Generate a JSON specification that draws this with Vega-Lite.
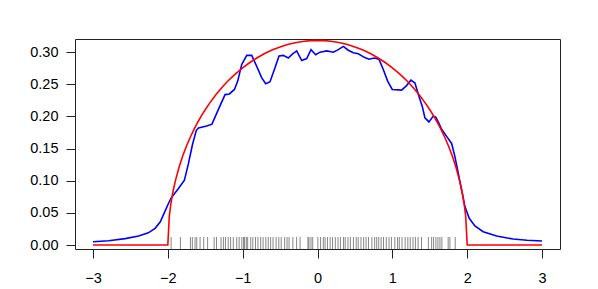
{
  "$schema": "https://vega.github.io/schema/vega-lite/v6.json",
  "width": 485,
  "height": 210,
  "padding": {"left": 75, "top": 39, "right": 38, "bottom": 40},
  "autosize": {"type": "none"},
  "background": "white",
  "config": {
    "view": {"stroke": "#222", "strokeWidth": 1},
    "font": "Liberation Sans",
    "axis": {"grid": false, "domain": false, "tickColor": "#222", "tickSize": 9, "labelFont": "Liberation Sans", "labelFontSize": 14.5, "labelColor": "#000", "labelOverlap": false, "labelFlush": false, "title": null}
  },
  "datasets": {
    "blue": [
      {"x": -3.0, "d": 0.0051}, {"x": -2.79, "d": 0.0067}, {"x": -2.57, "d": 0.0100}, {"x": -2.39, "d": 0.0140},
      {"x": -2.26, "d": 0.0190}, {"x": -2.17, "d": 0.0260}, {"x": -2.10, "d": 0.0360}, {"x": -2.04, "d": 0.0520},
      {"x": -1.99, "d": 0.0650}, {"x": -1.956, "d": 0.073}, {"x": -1.858, "d": 0.088}, {"x": -1.778, "d": 0.101},
      {"x": -1.724, "d": 0.127}, {"x": -1.671, "d": 0.156}, {"x": -1.62, "d": 0.178}, {"x": -1.59, "d": 0.182},
      {"x": -1.48, "d": 0.185}, {"x": -1.41, "d": 0.188}, {"x": -1.324, "d": 0.211}, {"x": -1.235, "d": 0.234},
      {"x": -1.177, "d": 0.235}, {"x": -1.11, "d": 0.242}, {"x": -1.066, "d": 0.255}, {"x": -1.012, "d": 0.281},
      {"x": -0.945, "d": 0.295}, {"x": -0.879, "d": 0.295}, {"x": -0.812, "d": 0.278}, {"x": -0.745, "d": 0.260},
      {"x": -0.692, "d": 0.251}, {"x": -0.634, "d": 0.254}, {"x": -0.567, "d": 0.276}, {"x": -0.514, "d": 0.294},
      {"x": -0.457, "d": 0.295}, {"x": -0.39, "d": 0.291}, {"x": -0.336, "d": 0.297}, {"x": -0.278, "d": 0.302},
      {"x": -0.211, "d": 0.287}, {"x": -0.144, "d": 0.290}, {"x": -0.087, "d": 0.304}, {"x": -0.024, "d": 0.296},
      {"x": 0.033, "d": 0.300}, {"x": 0.123, "d": 0.302}, {"x": 0.211, "d": 0.300}, {"x": 0.278, "d": 0.304},
      {"x": 0.345, "d": 0.309}, {"x": 0.411, "d": 0.303}, {"x": 0.478, "d": 0.299}, {"x": 0.545, "d": 0.2975},
      {"x": 0.625, "d": 0.292}, {"x": 0.688, "d": 0.289}, {"x": 0.759, "d": 0.291}, {"x": 0.821, "d": 0.289},
      {"x": 0.879, "d": 0.273}, {"x": 0.937, "d": 0.255}, {"x": 0.999, "d": 0.242}, {"x": 1.124, "d": 0.241},
      {"x": 1.19, "d": 0.248}, {"x": 1.248, "d": 0.2565}, {"x": 1.302, "d": 0.252}, {"x": 1.355, "d": 0.2315},
      {"x": 1.399, "d": 0.216}, {"x": 1.435, "d": 0.198}, {"x": 1.489, "d": 0.1915}, {"x": 1.546, "d": 0.2005},
      {"x": 1.58, "d": 0.199}, {"x": 1.62, "d": 0.190}, {"x": 1.658, "d": 0.180}, {"x": 1.725, "d": 0.169},
      {"x": 1.792, "d": 0.158}, {"x": 1.836, "d": 0.1375}, {"x": 1.88, "d": 0.112}, {"x": 1.925, "d": 0.0857},
      {"x": 1.97, "d": 0.0597}, {"x": 2.027, "d": 0.0416}, {"x": 2.103, "d": 0.0296}, {"x": 2.214, "d": 0.0207},
      {"x": 2.393, "d": 0.014}, {"x": 2.614, "d": 0.0093}, {"x": 2.8, "d": 0.0075}, {"x": 3.0, "d": 0.0062}
    ],
    "red": [
      {"x": -3.0, "d": 0}, {"x": -2.0, "d": 0}, {"x": -1.98, "d": 0.0449}, {"x": -1.96, "d": 0.0633},
      {"x": -1.94, "d": 0.0774}, {"x": -1.92, "d": 0.0891}, {"x": -1.9, "d": 0.0994}, {"x": -1.85, "d": 0.1210},
      {"x": -1.8, "d": 0.1388}, {"x": -1.75, "d": 0.1541}, {"x": -1.7, "d": 0.1677}, {"x": -1.65, "d": 0.1799},
      {"x": -1.6, "d": 0.1910}, {"x": -1.55, "d": 0.2012}, {"x": -1.5, "d": 0.2105}, {"x": -1.45, "d": 0.2192},
      {"x": -1.4, "d": 0.2273}, {"x": -1.35, "d": 0.2349}, {"x": -1.3, "d": 0.2419}, {"x": -1.25, "d": 0.2485},
      {"x": -1.2, "d": 0.2547}, {"x": -1.15, "d": 0.2604}, {"x": -1.1, "d": 0.2658}, {"x": -1.0, "d": 0.2757},
      {"x": -0.9, "d": 0.2843}, {"x": -0.8, "d": 0.2917}, {"x": -0.7, "d": 0.2982}, {"x": -0.6, "d": 0.3037},
      {"x": -0.5, "d": 0.3082}, {"x": -0.4, "d": 0.3119}, {"x": -0.3, "d": 0.3147}, {"x": -0.2, "d": 0.3167},
      {"x": -0.1, "d": 0.3179}, {"x": 0.0, "d": 0.3183}, {"x": 0.1, "d": 0.3179}, {"x": 0.2, "d": 0.3167},
      {"x": 0.3, "d": 0.3147}, {"x": 0.4, "d": 0.3119}, {"x": 0.5, "d": 0.3082}, {"x": 0.6, "d": 0.3037},
      {"x": 0.7, "d": 0.2982}, {"x": 0.8, "d": 0.2917}, {"x": 0.9, "d": 0.2843}, {"x": 1.0, "d": 0.2757},
      {"x": 1.1, "d": 0.2658}, {"x": 1.15, "d": 0.2604}, {"x": 1.2, "d": 0.2547}, {"x": 1.25, "d": 0.2485},
      {"x": 1.3, "d": 0.2419}, {"x": 1.35, "d": 0.2349}, {"x": 1.4, "d": 0.2273}, {"x": 1.45, "d": 0.2192},
      {"x": 1.5, "d": 0.2105}, {"x": 1.55, "d": 0.2012}, {"x": 1.6, "d": 0.1910}, {"x": 1.65, "d": 0.1799},
      {"x": 1.7, "d": 0.1677}, {"x": 1.75, "d": 0.1541}, {"x": 1.8, "d": 0.1388}, {"x": 1.85, "d": 0.1210},
      {"x": 1.9, "d": 0.0994}, {"x": 1.92, "d": 0.0891}, {"x": 1.94, "d": 0.0774}, {"x": 1.96, "d": 0.0633},
      {"x": 1.98, "d": 0.0449}, {"x": 2.0, "d": 0}, {"x": 3.0, "d": 0}
    ],
    "rug": [
      {"x": -1.956}, {"x": -1.832}, {"x": -1.698}, {"x": -1.672}, {"x": -1.636}, {"x": -1.613}, {"x": -1.569},
      {"x": -1.52}, {"x": -1.468}, {"x": -1.381}, {"x": -1.349}, {"x": -1.289}, {"x": -1.257}, {"x": -1.230},
      {"x": -1.193}, {"x": -1.161}, {"x": -1.125}, {"x": -1.079}, {"x": -1.047}, {"x": -1.011}, {"x": -0.988},
      {"x": -0.974}, {"x": -0.951}, {"x": -0.933}, {"x": -0.892}, {"x": -0.864}, {"x": -0.828}, {"x": -0.796},
      {"x": -0.759}, {"x": -0.727}, {"x": -0.690}, {"x": -0.658}, {"x": -0.626}, {"x": -0.594}, {"x": -0.553},
      {"x": -0.517}, {"x": -0.485}, {"x": -0.439}, {"x": -0.407}, {"x": -0.380}, {"x": -0.329}, {"x": -0.279},
      {"x": -0.233}, {"x": -0.128}, {"x": -0.114}, {"x": -0.087}, {"x": -0.064}, {"x": 0.005}, {"x": 0.041},
      {"x": 0.078}, {"x": 0.101}, {"x": 0.133}, {"x": 0.169}, {"x": 0.201}, {"x": 0.238}, {"x": 0.274},
      {"x": 0.306}, {"x": 0.348}, {"x": 0.370}, {"x": 0.407}, {"x": 0.439}, {"x": 0.480}, {"x": 0.517},
      {"x": 0.544}, {"x": 0.581}, {"x": 0.617}, {"x": 0.649}, {"x": 0.681}, {"x": 0.727}, {"x": 0.764},
      {"x": 0.791}, {"x": 0.818}, {"x": 0.850}, {"x": 0.882}, {"x": 0.919}, {"x": 0.956}, {"x": 0.988},
      {"x": 1.033}, {"x": 1.070}, {"x": 1.093}, {"x": 1.129}, {"x": 1.171}, {"x": 1.207}, {"x": 1.239},
      {"x": 1.276}, {"x": 1.308}, {"x": 1.344}, {"x": 1.390}, {"x": 1.481}, {"x": 1.525}, {"x": 1.551},
      {"x": 1.582}, {"x": 1.609}, {"x": 1.636}, {"x": 1.662}, {"x": 1.746}, {"x": 1.769}, {"x": 1.840}
    ]
  },
  "encoding": {
    "x": {"field": "x", "type": "quantitative", "scale": {"domain": [-3.24, 3.24], "nice": false, "zero": false},
          "axis": {"values": [-3, -2, -1, 0, 1, 2, 3], "labelPadding": 13, "format": "d", "labelFontSize": 14.5, "labelOverlap": false}}
  },
  "layer": [
    {
      "data": {"name": "rug"},
      "mark": {"type": "rule", "color": "#000", "strokeWidth": 0.6, "opacity": 0.8},
      "encoding": {
        "y": {"datum": -0.0062, "type": "quantitative", "scale": {"domain": [-0.0062, 0.3205], "nice": false, "zero": false},
              "axis": {"values": [0, 0.05, 0.1, 0.15, 0.2, 0.25, 0.3], "format": ".2f", "labelPadding": 8, "labelFontSize": 14.5, "labelOverlap": false}},
        "y2": {"datum": 0.0125}
      }
    },
    {
      "data": {"name": "blue"},
      "mark": {"type": "line", "color": "#0000FF", "strokeWidth": 1.6, "clip": true},
      "encoding": {
        "y": {"field": "d", "type": "quantitative", "scale": {"domain": [-0.0062, 0.3205], "nice": false, "zero": false},
              "axis": {"values": [0, 0.05, 0.1, 0.15, 0.2, 0.25, 0.3], "format": ".2f", "labelPadding": 8, "labelFontSize": 14.5, "labelOverlap": false}}
      }
    },
    {
      "data": {"name": "red"},
      "mark": {"type": "line", "color": "#FF0000", "strokeWidth": 1.6, "clip": true},
      "encoding": {
        "y": {"field": "d", "type": "quantitative", "scale": {"domain": [-0.0062, 0.3205], "nice": false, "zero": false},
              "axis": {"values": [0, 0.05, 0.1, 0.15, 0.2, 0.25, 0.3], "format": ".2f", "labelPadding": 8, "labelFontSize": 14.5, "labelOverlap": false}}
      }
    }
  ]
}
